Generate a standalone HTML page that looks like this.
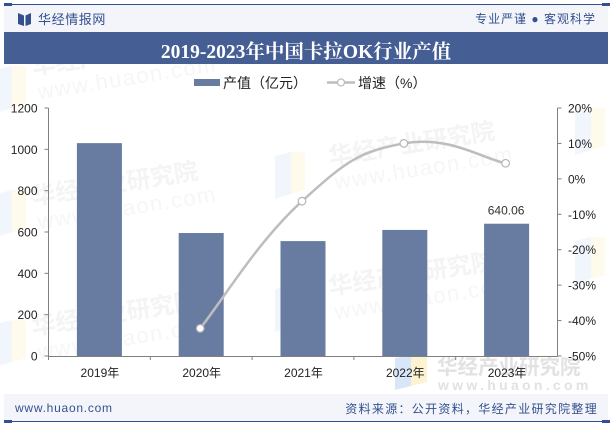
<!DOCTYPE html>
<html lang="zh">
<head>
<meta charset="utf-8">
<title>2019-2023年中国卡拉OK行业产值</title>
<style>
html,body{margin:0;padding:0;background:#fff;}
#stage{position:relative;width:614px;height:426px;overflow:hidden;background:#fff;font-family:"Liberation Sans","Noto Sans CJK SC",sans-serif;}
#stage svg{position:absolute;left:0;top:0;}
</style>
</head>
<body>
<div id="stage">
<svg id="chart" width="614" height="426" viewBox="0 0 614 426" xmlns="http://www.w3.org/2000/svg">
  <g id="watermarks"></g>

  <rect x="4" y="5" width="604" height="27" fill="#f3f5fa"/>
  <rect x="4" y="4" width="606" height="1" fill="#34508f"/>
  <rect x="4" y="3" width="8" height="3" fill="#34508f"/>
  <rect x="602" y="3" width="8" height="3" fill="#34508f"/>
  <path d="M18 13 L24 15.5 L24 26 L18 24 Z M31 13 L25.500 15.500 L25.500 26 L31 24 Z" fill="#34508f"/>
  <text x="38" y="24" font-size="13" letter-spacing="0.6" fill="#34508f">华经情报网</text>
  <text x="596" y="23" text-anchor="end" font-size="12" letter-spacing="1" fill="#34508f">专业严谨 ● 客观科学</text>

  <rect x="4" y="32" width="604" height="32" fill="#455e94"/>
  <text x="306" y="58" text-anchor="middle" font-size="19.5" font-weight="bold" fill="#ffffff" style="font-family:'Liberation Serif','Noto Serif CJK SC',serif">2019-2023年中国卡拉OK行业产值</text>

  <g>
    <rect x="194" y="79" width="26" height="7" fill="#687ba0"/>
    <text x="223" y="88" font-size="14" fill="#222">产值（亿元）</text>
    <line x1="327" y1="82.500" x2="355" y2="82.500" stroke="#bdbdbd" stroke-width="2.500"/>
    <circle cx="341" cy="82.500" r="3.500" fill="#fff" stroke="#bdbdbd" stroke-width="1.300"/>
    <text x="358" y="88" font-size="14" fill="#222">增速（%）</text>
  </g>

  <g id="bars"></g>
  <g id="axes"></g>
  <g id="line"></g>

  <rect x="4" y="394" width="604" height="27" fill="#f3f5fa"/>
  <rect x="4" y="421" width="606" height="1" fill="#34508f"/>
  <rect x="4" y="420" width="8" height="3" fill="#34508f"/>
  <rect x="602" y="420" width="8" height="3" fill="#34508f"/>
  <text x="15" y="412" font-size="12" letter-spacing="0.75" fill="#34508f">www.huaon.com</text>
  <text x="598" y="413" text-anchor="end" font-size="12" letter-spacing="1.3" fill="#34508f">资料来源：公开资料，华经产业研究院整理</text>
</svg>
</div>
<script>
const categories = ['2019年', '2020年', '2021年', '2022年', '2023年'];
const outputValues = [1030, 595, 556, 610, 640.06];
const growthValues = [null, -42.2, -6.3, 10, 4.4];
const leftTicks = [0, 200, 400, 600, 800, 1000, 1200];
const rightTicks = [-50, -40, -30, -20, -10, 0, 10, 20];
const valueLabels = [null, null, null, null, '640.06'];

const NS = 'http://www.w3.org/2000/svg';
const plot = { left: 48.5, right: 557.5, top: 108, bottom: 356 };
const barWidth = 45;

function xBand(i) { return plot.left + (plot.right - plot.left) * (i + 0.5) / categories.length; }
function yLeft(v) { return plot.bottom - (v - 0) / (1200 - 0) * (plot.bottom - plot.top); }
function yRight(v) { return plot.bottom - (v + 50) / 70 * (plot.bottom - plot.top); }
function make(tag, attrs, text) {
  const el = document.createElementNS(NS, tag);
  for (const k in attrs) el.setAttribute(k, attrs[k]);
  if (text !== undefined) el.textContent = text;
  return el;
}

/* watermarks */
const wmLayer = document.getElementById('watermarks');
const wmLogos = [[-4, 66], [-4, 190], [-4, 320], [275, 152], [275, 285], [575, 108], [575, 237]];
wmLogos.forEach(function (o) {
  const g = make('g', { transform: 'translate(' + o[0] + ' ' + o[1] + ')' });
  
  
  g.appendChild(make('path', { d: 'M0 4 L16 0 L16 42 L0 47 Z', fill: '#f1f6fd' }));
  g.appendChild(make('path', { d: 'M16 0 L30 0 L30 38 L16 42 Z', fill: '#fefaec' }));
  wmLayer.appendChild(g);
});
const wmOrigins = [[33, 75], [33, 205], [33, 335], [330, 165], [330, 295]];
wmOrigins.forEach(function (o) {
  const g = make('g', { transform: 'translate(' + o[0] + ' ' + o[1] + ') rotate(-9)' });
  
  
  g.appendChild(make('text', { x: 0, y: 0, 'font-size': 24, 'font-weight': 'bold', fill: '#f4f4f4' }, '华经产业研究院'));
  g.appendChild(make('text', { x: 2, y: 25, 'font-size': 22, fill: '#f6f6f6', 'letter-spacing': 1.500 }, 'www.huaon.com'));
  wmLayer.appendChild(g);
});
const wmG = make('g', {});


wmG.appendChild(make('path', { d: 'M395 358 L411 356 L411 386 L395 390 Z', fill: '#d8e6fa' }));
wmG.appendChild(make('path', { d: 'M411 356 L427 356 L427 382 L411 386 Z', fill: '#fbf3d2' }));
wmG.appendChild(make('text', { x: 437, y: 374, 'font-size': 20.500, 'font-weight': 'bold', fill: '#e2e2e2' }, '华经产业研究院'));
wmG.appendChild(make('text', { x: 438, y: 390, 'font-size': 14, 'font-weight': 'bold', fill: '#e2e2e2', 'letter-spacing': 3.300 }, 'www.huaon.com'));
wmLayer.appendChild(wmG);

/* bars */
const barLayer = document.getElementById('bars');
outputValues.forEach(function (v, i) {
  const y = yLeft(v);
  const r = make('rect', { x: xBand(i) - barWidth / 2, y: y, width: barWidth, height: plot.bottom - y, fill: '#687ba0' });
  
  
  barLayer.appendChild(r);
  if (valueLabels[i]) {
    const t = make('text', { x: xBand(i) - 0.5, y: y - 9, 'text-anchor': 'middle', 'font-size': 12, fill: '#333' }, valueLabels[i]);
    
    
    barLayer.appendChild(t);
  }
});

/* axes */
const axisLayer = document.getElementById('axes');
const axisColor = '#808080';
function seg(x1, y1, x2, y2, name) {
  const l = make('line', { x1: x1, y1: y1, x2: x2, y2: y2, stroke: axisColor, 'stroke-width': 1 });
  
  
  axisLayer.appendChild(l);
}
seg(plot.left, plot.top, plot.left, plot.bottom, 'left-axis-line');
seg(plot.right, plot.top, plot.right, plot.bottom, 'right-axis-line');
seg(plot.left, plot.bottom + 0.5, plot.right, plot.bottom + 0.5, 'x-axis-line');
leftTicks.forEach(function (v) {
  const y = yLeft(v);
  seg(plot.left - 4, y, plot.left, y, 'left-axis-tick');
  const t = make('text', { x: 37.5, y: y + 4.500, 'text-anchor': 'end', 'font-size': 12, fill: '#222' }, String(v));
  
  
  axisLayer.appendChild(t);
});
rightTicks.forEach(function (v) {
  const y = yRight(v);
  seg(plot.right, y, plot.right + 4, y, 'right-axis-tick');
  const t = make('text', { x: 568, y: y + 4.500, 'font-size': 12, fill: '#222' }, v + '%');
  
  
  axisLayer.appendChild(t);
});
categories.forEach(function (c, i) {
  const step = (plot.right - plot.left) / categories.length;
  seg(plot.left + step * i, plot.bottom, plot.left + step * i, plot.bottom + 4, 'x-axis-tick');
  const t = make('text', { x: xBand(i) + 0.5, y: 377, 'text-anchor': 'middle', 'font-size': 12, fill: '#222' }, c);
  
  
  axisLayer.appendChild(t);
});

/* smoothed growth line */
const lineLayer = document.getElementById('line');
const pts = [];
growthValues.forEach(function (v, i) {
  if (v !== null) pts.push([xBand(i) - 1, yRight(v)]);
});
let d = 'M' + pts[0][0] + ' ' + pts[0][1];
for (let i = 0; i < pts.length - 1; i++) {
  const p0 = pts[Math.max(i - 1, 0)], p1 = pts[i], p2 = pts[i + 1], p3 = pts[Math.min(i + 2, pts.length - 1)];
  const k = 0.22;
  const c1y = p1[1] + (p2[1] - p0[1]) * k;
  const c2y = p2[1] - (p3[1] - p1[1]) * k;
  const c1x = p1[0] + (p2[0] - p0[0]) * k;
  const c2x = p2[0] - (p3[0] - p1[0]) * k;
  d += ' C' + c1x + ' ' + c1y + ' ' + c2x + ' ' + c2y + ' ' + p2[0] + ' ' + p2[1];
}
const path = make('path', { d: d, fill: 'none', stroke: '#bdbdbd', 'stroke-width': 2.500 });


lineLayer.appendChild(path);
pts.forEach(function (p) {
  const c = make('circle', { cx: p[0], cy: p[1], r: 3.800, fill: '#fff', stroke: '#b5b5b5', 'stroke-width': 1.200 });
  
  
  lineLayer.appendChild(c);
});
</script>
</body>
</html>
